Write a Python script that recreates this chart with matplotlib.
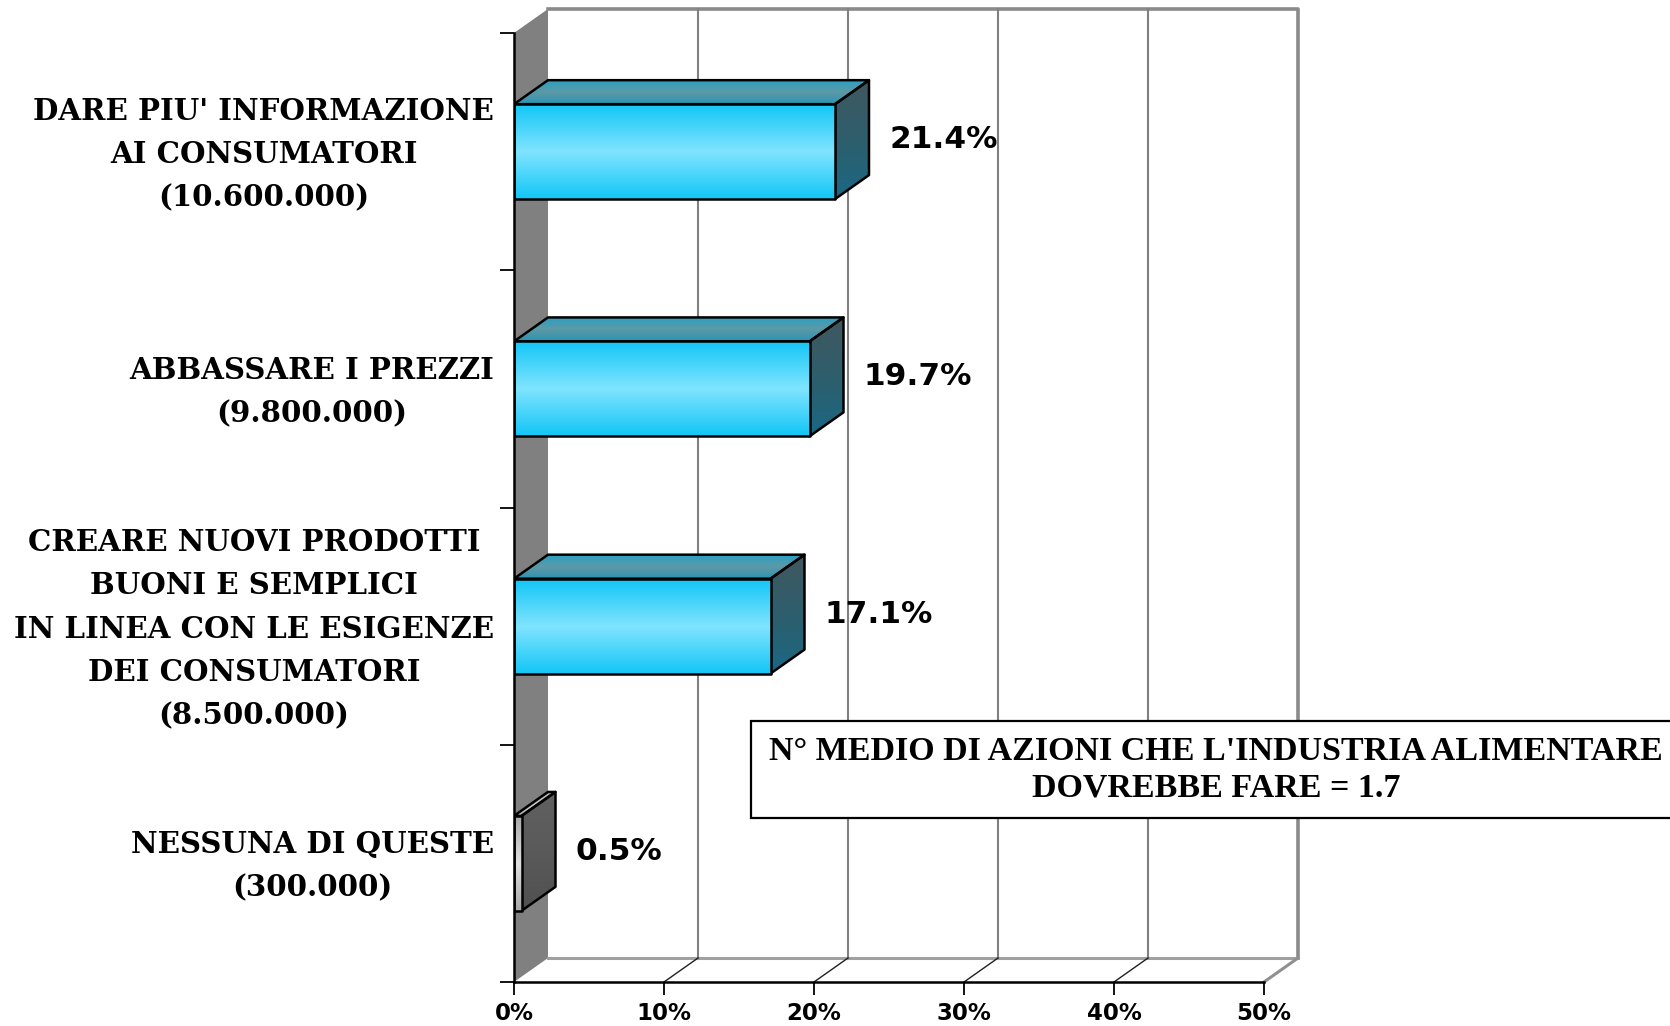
import numpy as np
import matplotlib
matplotlib.use("Agg")
import matplotlib.pyplot as plt
from matplotlib.colors import LinearSegmentedColormap
from matplotlib.patches import Polygon, Rectangle
from matplotlib.transforms import offset_copy

categories = [
    "DARE PIU' INFORMAZIONE\nAI CONSUMATORI\n(10.600.000)",
    "ABBASSARE I PREZZI\n(9.800.000)",
    "CREARE NUOVI PRODOTTI\nBUONI E SEMPLICI\nIN LINEA CON LE ESIGENZE\nDEI CONSUMATORI\n(8.500.000)",
    "NESSUNA DI QUESTE\n(300.000)",
]
values = [21.4, 19.7, 17.1, 0.5]
value_labels = ["21.4%", "19.7%", "17.1%", "0.5%"]
xticks = [0, 10, 20, 30, 40, 50]
xtick_labels = ["0%", "10%", "20%", "30%", "40%", "50%"]
note = "N° MEDIO DI AZIONI CHE L'INDUSTRIA ALIMENTARE\nDOVREBBE FARE = 1.7"

# colours: blue bars, the last one grey
blue = dict(front=["#12c6f6", "#80e4ff", "#12c6f6"],
            top=["#2b93b3", "#5d99a6", "#2aa0c4"],
            side=["#1a6885", "#2e5e6c", "#405860"])
grey = dict(front=["#a8a8a8", "#e0e0e0", "#a8a8a8"],
            top=["#b0b0b0", "#c8c8c8", "#b0b0b0"],
            side=["#505050", "#5a5a5a", "#606060"])
bar_styles = [blue, blue, blue, grey]

W, H = 1670, 1026
n = len(categories)
fig = plt.figure(figsize=(W / 100, H / 100), dpi=100)
ax = fig.add_axes([514 / W, 44 / H, 750 / W, 949 / H])
ax.set_xlim(0, 50)
ax.set_ylim(0, n)
ax.set_autoscale_on(False)

# depth of the fake 3d box, in data units
DX = 34 / 750 * 50
DY = 24 / 949 * n

for s in ["top", "right"]:
    ax.spines[s].set_visible(False)
for s in ["left", "bottom"]:
    ax.spines[s].set_color("black")
    ax.spines[s].set_linewidth(1.8)
    ax.spines[s].set_zorder(6)

ax.set_xticks(xticks)
ax.set_xticklabels(xtick_labels, fontsize=16.5, fontweight="bold", family="DejaVu Sans")
ax.tick_params(axis="x", direction="out", length=9.5, width=1.3, pad=5)
ax.set_yticks(np.arange(n + 1))
ax.set_yticklabels([])
ax.tick_params(axis="y", which="major", direction="out", length=10, width=1.3)
centers = n - 0.5 - np.arange(n)

# category labels left of the axis
ctrans = offset_copy(ax.transData, fig=fig, x=-20, y=-3, units="dots")
for yc, cat in zip(centers, categories):
    ax.text(0, yc, cat, transform=ctrans, ha="right", va="center", multialignment="center",
            fontsize=21.1, fontweight="bold", family="DejaVu Serif", linespacing=1.63)

# left wall
ax.add_patch(Polygon([(0, 0), (DX, DY), (DX, n + DY), (0, n)], closed=True,
                     facecolor="#808080", edgecolor="none", zorder=1, clip_on=False))
# back plane frame and grid
gcol = "#808080"
ax.plot([DX, 50 + DX, 50 + DX], [n + DY, n + DY, DY], color="#8a8a8a", lw=2.6,
        clip_on=False, zorder=1, solid_capstyle="projecting")
ax.plot([DX, 50 + DX], [DY, DY], color="#a0a0a0", lw=2.2, clip_on=False, zorder=1)
for x in xticks[1:-1]:
    ax.plot([x + DX, x + DX], [DY, n + DY], color=gcol, lw=1.5, clip_on=False, zorder=1)
    ax.plot([x, x + DX], [0, DY], color="#202020", lw=1.0, clip_on=False, zorder=1)
ax.plot([50, 50 + DX], [0, DY], color="#909090", lw=2.2, clip_on=False, zorder=1)


def gradient_fill(verts, colors, zorder):
    xs = [v[0] for v in verts]
    ys = [v[1] for v in verts]
    cmap = LinearSegmentedColormap.from_list("g", colors)
    grad = np.linspace(0, 1, 256).reshape(-1, 1)
    im = ax.imshow(grad, cmap=cmap, aspect="auto", origin="lower", interpolation="bilinear",
                   extent=[min(xs), max(xs), min(ys), max(ys)], zorder=zorder)
    poly = Polygon(verts, closed=True, facecolor="none", edgecolor="black",
                   lw=1.8, zorder=zorder + 0.1, joinstyle="round")
    ax.add_patch(poly)
    im.set_clip_path(poly)


bh = 0.2
for yc, v, st in zip(centers, values, bar_styles):
    y0, y1 = yc - bh, yc + bh
    gradient_fill([(v, y0), (v + DX, y0 + DY), (v + DX, y1 + DY), (v, y1)], st["side"], 3)
    gradient_fill([(0, y1), (DX, y1 + DY), (v + DX, y1 + DY), (v, y1)], st["top"], 3)
    gradient_fill([(0, y0), (v, y0), (v, y1), (0, y1)], st["front"], 4)

vtrans = offset_copy(ax.transData, fig=fig, x=20, y=0, units="dots")
for yc, v, lab in zip(centers, values, value_labels):
    ax.text(v + DX, yc + DY / 2, lab, transform=vtrans, ha="left", va="center",
            fontsize=22.5, fontweight="bold", family="DejaVu Sans", zorder=7)

# note box
ax.add_patch(Rectangle((15.8, 0.691), 70, 0.409, facecolor="white", edgecolor="black",
                       lw=1.6, zorder=5, clip_on=False))
ax.text(46.8, 0.894, note, ha="center", va="center", fontsize=24.5, fontweight="bold",
        family="Liberation Serif", linespacing=1.25, zorder=7)

fig.savefig("out.png", dpi=100)
